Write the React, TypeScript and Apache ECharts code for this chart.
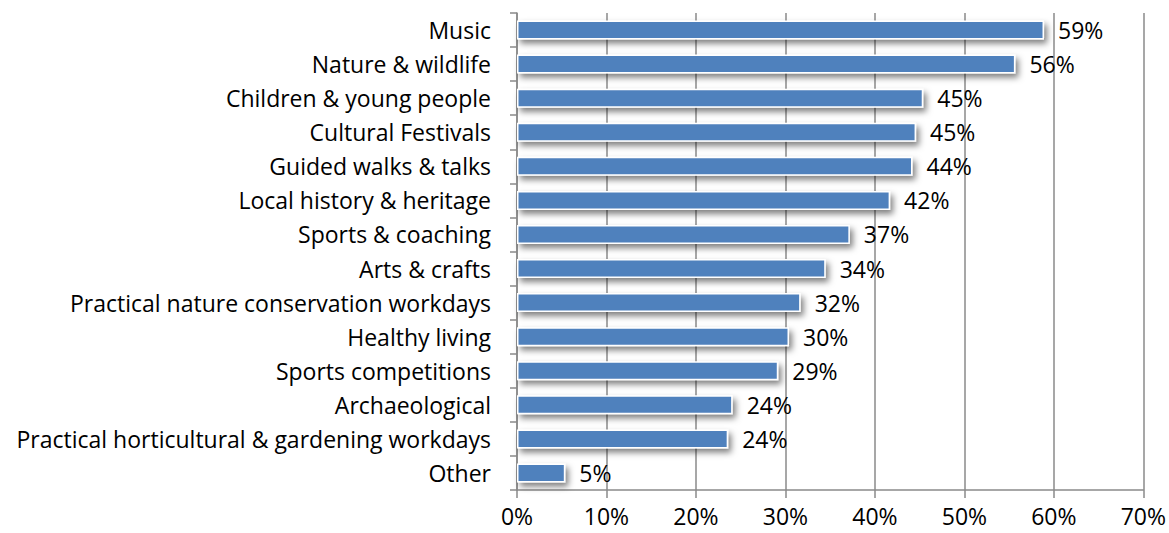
import React, { useEffect, useRef } from "react";
import * as echarts from "echarts";

const categories = [
  "Music",
  "Nature & wildlife",
  "Children & young people",
  "Cultural Festivals",
  "Guided walks & talks",
  "Local history & heritage",
  "Sports & coaching",
  "Arts & crafts",
  "Practical nature conservation workdays",
  "Healthy living",
  "Sports competitions",
  "Archaeological",
  "Practical horticultural & gardening workdays",
  "Other",
];
const values = [58.9, 55.7, 45.4, 44.6, 44.2, 41.7, 37.2, 34.5, 31.7, 30.4, 29.2, 24.1, 23.6, 5.4];
const labels = ["59%", "56%", "45%", "45%", "44%", "42%", "37%", "34%", "32%", "30%", "29%", "24%", "24%", "5%"];
const xTicks = [0, 10, 20, 30, 40, 50, 60, 70];

const FONT = "'Open Sans', sans-serif";
const FS = 23;

export default function App() {
  const ref = useRef<HTMLDivElement>(null);
  useEffect(() => {
    if (!ref.current) return;
    const chart = echarts.init(ref.current, undefined, { renderer: "svg" });
    const cats = [...categories].reverse();
    const vals = [...values].reverse();
    const labs = [...labels].reverse();
    chart.setOption({
      animation: false,
      grid: { left: 517, right: 25, top: 13, bottom: 43, containLabel: false },
      xAxis: {
        type: "value",
        min: xTicks[0],
        max: xTicks[xTicks.length - 1],
        interval: 10,
        axisLine: { show: true, lineStyle: { color: "#8a8a8a", width: 1.5 } },
        axisTick: { show: true, length: 8, lineStyle: { color: "#8a8a8a", width: 1.5 } },
        splitLine: { show: true, lineStyle: { color: "#8a8a8a", width: 1.5 } },
        axisLabel: {
          formatter: (v: number) => v + "%",
          color: "#000",
          fontSize: FS,
          fontFamily: FONT,
          margin: 14,
        },
      },
      yAxis: {
        type: "category",
        data: cats,
        axisLine: { show: true, lineStyle: { color: "#8a8a8a", width: 1.5 } },
        axisTick: { show: true, length: 7, lineStyle: { color: "#8a8a8a", width: 1.5 } },
        axisLabel: {
          color: "#000",
          fontSize: FS,
          fontFamily: FONT,
          margin: 26,
        },
      },
      series: [
        {
          type: "bar",
          data: vals,
          barWidth: 19,
          itemStyle: {
            color: "#4f81bd",
            borderColor: "#ffffff",
            borderWidth: 1.5,
            shadowBlur: 6,
            shadowOffsetX: 3,
            shadowOffsetY: 4,
            shadowColor: "rgba(0,0,0,0.5)",
          },
          label: {
            show: true,
            position: "right",
            distance: 14,
            color: "#000",
            fontSize: FS,
            fontFamily: FONT,
            formatter: (p: any) => labs[p.dataIndex],
          },
        },
      ],
    });
    return () => chart.dispose();
  }, []);
  return (
    <div
      ref={ref}
      style={{ position: "fixed", left: 0, top: 0, width: 1169, height: 533, background: "#fff" }}
    />
  );
}
